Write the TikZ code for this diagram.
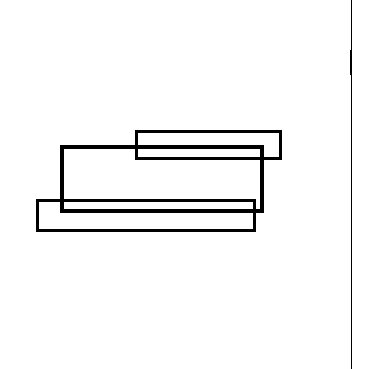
\documentclass[tikz,border=0pt]{standalone}
\begin{document}
\begin{tikzpicture}[x=1pt,y=-1pt,
  box/.style={draw=black,inner sep=0pt,outer sep=0pt,fill=none,line width=3pt}]
\useasboundingbox (0,0) rectangle (367,369);
\node[box,minimum width=144pt,minimum height=27pt,anchor=north west] (top) at (136,131) {};
\node[box,line width=3.2pt,minimum width=200pt,minimum height=64pt,anchor=north west] (mid) at (62,147) {};
\node[box,minimum width=217pt,minimum height=30pt,anchor=north west] (bot) at (37,200) {};
\coordinate (vt) at (351,0);
\coordinate (vb) at (351,369);
\draw[line width=0.9pt] (vt) -- (vb);
\draw[line width=1.8pt] (351,50) -- (351,75);
\end{tikzpicture}
\end{document}
